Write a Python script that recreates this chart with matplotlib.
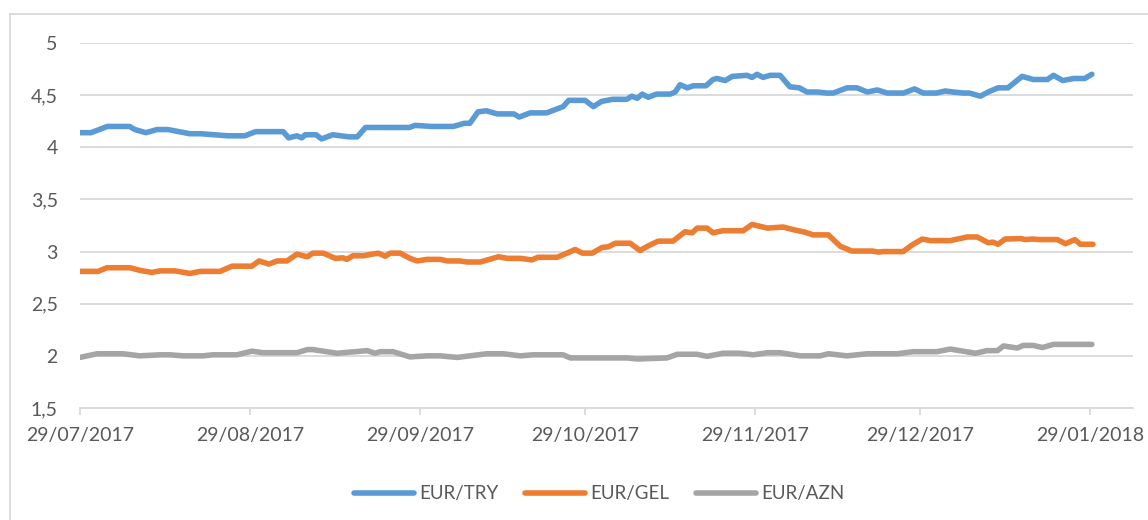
import pandas as pd
import matplotlib
matplotlib.use("Agg")
import matplotlib.pyplot as plt
import matplotlib.dates as mdates
from matplotlib.patches import Rectangle
from matplotlib.ticker import FuncFormatter

start = pd.Timestamp("2017-07-29")

# days after 29/07/2017
try_days = [0, 2, 5, 9, 10, 12, 14, 16, 20, 22, 27, 30, 32, 37, 38, 39.5, 40.4, 41, 43, 44,
            46, 49, 50.5, 52, 55, 60, 61, 64, 68, 70, 71, 72.5, 74, 76, 79, 80, 82, 85, 88, 89,
            92, 93.5, 95, 97, 99.6, 100.5, 101.5, 102.4, 103.5, 105, 107.5, 108.4, 109.3, 110.6,
            111.7, 114, 115.3, 116, 117.5, 118.8, 121.5, 122.4, 123.3, 124.4, 125.7, 127.5,
            129.3, 131, 132.4, 134.3, 136, 137.2, 139.7, 141.5, 143.4, 145.2, 147, 150, 152,
            153.6, 156, 157.6, 159, 161, 162, 164, 165.4, 167.2, 169, 171.6, 173.6, 176.2,
            177.3, 179, 181, 183, 184.3]
try_vals = [4.14, 4.14, 4.20, 4.20, 4.17, 4.14, 4.17, 4.17, 4.13, 4.13, 4.11, 4.11, 4.15, 4.15,
            4.09, 4.11, 4.09, 4.12, 4.12, 4.08, 4.12, 4.10, 4.10, 4.19, 4.19, 4.19, 4.21, 4.20,
            4.20, 4.23, 4.23, 4.34, 4.35, 4.32, 4.32, 4.29, 4.33, 4.33, 4.39, 4.45, 4.45, 4.39,
            4.44, 4.46, 4.46, 4.49, 4.47, 4.51, 4.48, 4.51, 4.51, 4.53, 4.60, 4.57, 4.59, 4.59,
            4.65, 4.66, 4.64, 4.68, 4.69, 4.67, 4.70, 4.67, 4.69, 4.69, 4.58, 4.57, 4.53, 4.53,
            4.52, 4.52, 4.57, 4.57, 4.53, 4.55, 4.52, 4.52, 4.56, 4.52, 4.52, 4.54, 4.53, 4.52,
            4.52, 4.49, 4.53, 4.57, 4.57, 4.68, 4.65, 4.65, 4.69, 4.64, 4.66, 4.66, 4.70]

gel_days = [0, 3.3, 4.9, 9.1, 10.9, 13.1, 14.6, 17.3, 20, 21.9, 25.5, 27.7, 31.3, 32.6, 34.4,
            35.9, 37.7, 39.5, 41.4, 42.4, 44.3, 46.5, 47.9, 48.6, 49.7, 51.6, 54.3, 55.6, 56.5,
            58.3, 60.1, 61.4, 63.2, 65.6, 66.9, 69.2, 70.5, 72.9, 76.2, 77.8, 80.2, 82.3, 83.4,
            86.9, 88.7, 90.2, 91.5, 93.3, 95.1, 96.2, 97.5, 100.2, 102, 103.5, 105.3, 108,
            110.2, 111.5, 112.4, 114.2, 115.3, 117.1, 120.8, 122.4, 125.2, 128.1, 129.9, 132.1,
            133.5, 136.3, 138.5, 140.6, 144.3, 145.4, 146.3, 149.9, 151.6, 153.4, 154.9, 158.5,
            161.6, 163.4, 165.4, 166.3, 167.2, 168.5, 171.3, 172.2, 173.4, 174.9, 178, 179.5,
            181.2, 182.2, 184.5]
gel_vals = [2.81, 2.81, 2.845, 2.845, 2.82, 2.80, 2.815, 2.815, 2.79, 2.81, 2.81, 2.86, 2.86,
            2.91, 2.88, 2.91, 2.91, 2.975, 2.95, 2.985, 2.985, 2.935, 2.94, 2.925, 2.96, 2.96,
            2.985, 2.955, 2.985, 2.985, 2.935, 2.91, 2.925, 2.925, 2.91, 2.91, 2.90, 2.90, 2.95,
            2.935, 2.935, 2.92, 2.945, 2.945, 2.985, 3.02, 2.985, 2.985, 3.04, 3.045, 3.08,
            3.08, 3.01, 3.055, 3.10, 3.10, 3.19, 3.18, 3.225, 3.225, 3.18, 3.20, 3.20, 3.26,
            3.225, 3.235, 3.21, 3.185, 3.16, 3.16, 3.05, 3.005, 3.005, 2.995, 3.0, 3.0, 3.065,
            3.12, 3.105, 3.105, 3.14, 3.14, 3.085, 3.09, 3.07, 3.12, 3.125, 3.115, 3.12, 3.115,
            3.115, 3.075, 3.115, 3.07, 3.07]

azn_days = [0, 3.1, 7.8, 10.9, 14.6, 16.4, 18.8, 22.4, 24.2, 28.6, 31.3, 33.3, 39.5, 41.4,
            42.4, 46.8, 52.3, 53.7, 54.7, 57, 60.1, 63.2, 65.6, 68.7, 74.1, 77.1, 80.2, 82.5,
            88, 89.3, 99.7, 101.5, 106.9, 108.8, 112.4, 114.2, 117.1, 120.2, 122.6, 125.2,
            127.5, 131.2, 134.8, 136.3, 139.7, 143.4, 148.8, 151.8, 156.1, 158.5, 163.1, 165.2,
            167.1, 168.2, 170.7, 171.8, 173.6, 175.3, 177.3, 184.3]
azn_vals = [1.985, 2.02, 2.02, 2.0, 2.01, 2.01, 2.0, 2.0, 2.01, 2.01, 2.045, 2.03, 2.03, 2.06,
            2.06, 2.025, 2.05, 2.025, 2.04, 2.04, 1.99, 2.0, 2.0, 1.985, 2.02, 2.02, 2.0, 2.01,
            2.01, 1.98, 1.98, 1.97, 1.98, 2.015, 2.015, 1.995, 2.025, 2.025, 2.01, 2.03, 2.03,
            2.0, 2.0, 2.02, 2.0, 2.02, 2.02, 2.04, 2.04, 2.065, 2.025, 2.05, 2.05, 2.095, 2.075,
            2.10, 2.10, 2.08, 2.11, 2.11]


def to_dates(days):
    return start + pd.to_timedelta(days, unit="D")


plt.rcParams["font.family"] = ["Lato", "DejaVu Sans"]
text_color = "#595959"
grid_color = "#D9D9D9"

fig = plt.figure(figsize=(11.48, 5.2), dpi=100)
ax = fig.add_axes([0.0697, 0.2154, 0.9173, 0.7019])

ax.plot(to_dates(try_days), try_vals, color="#5B9BD5", lw=4, label="EUR/TRY",
        solid_capstyle="round", solid_joinstyle="round")
ax.plot(to_dates(gel_days), gel_vals, color="#ED7D31", lw=4, label="EUR/GEL",
        solid_capstyle="round", solid_joinstyle="round")
ax.plot(to_dates(azn_days), azn_vals, color="#A5A5A5", lw=4, label="EUR/AZN",
        solid_capstyle="round", solid_joinstyle="round")

ax.set_ylim(1.5, 5)
ax.set_yticks([1.5, 2, 2.5, 3, 3.5, 4, 4.5, 5])
ax.yaxis.set_major_formatter(FuncFormatter(lambda v, p: f"{v:g}".replace(".", ",")))
ax.set_xlim(start, start + pd.Timedelta(days=191.8))
ax.xaxis.set_major_locator(mdates.DayLocator(bymonthday=29))
ax.xaxis.set_major_formatter(mdates.DateFormatter("%d/%m/%Y"))

ax.grid(axis="y", color=grid_color, lw=1.3)
ax.set_axisbelow(True)
for s in ["top", "right", "left"]:
    ax.spines[s].set_visible(False)
ax.spines["bottom"].set_color(grid_color)
ax.spines["bottom"].set_linewidth(1.3)
ax.tick_params(axis="y", length=0, pad=16, labelsize=14, labelcolor=text_color)
ax.tick_params(axis="x", length=5, width=1.3, color=grid_color, pad=9,
               labelsize=14, labelcolor=text_color)

ax.legend(loc="upper center", bbox_to_anchor=(0.493, -0.165), ncol=3, frameon=False,
          fontsize=13.5, labelcolor=text_color, handlelength=3.2, columnspacing=1.4,
          handletextpad=0.3)

# outer chart frame (cut off at the right and bottom like the reference)
fig.patches.append(Rectangle((10 / 1148, -0.1), 1.2, 1 - 14 / 520 + 0.1,
                             transform=fig.transFigure, fill=False,
                             edgecolor=grid_color, lw=1.3))

fig.savefig("out.png", dpi=100)
